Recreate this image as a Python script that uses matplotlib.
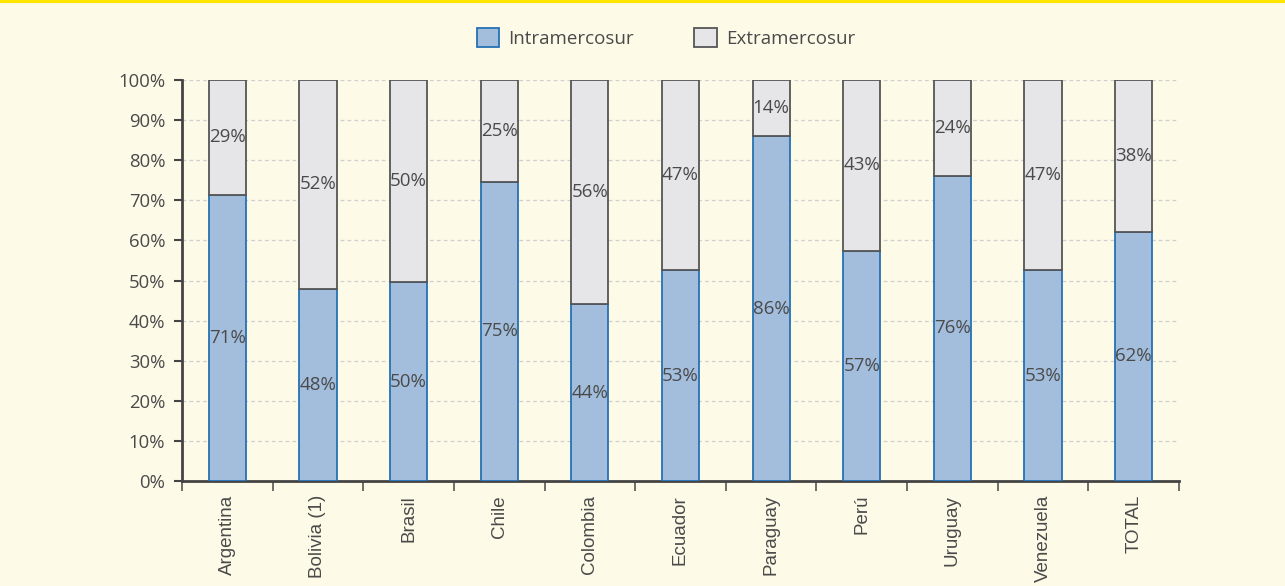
import numpy as np
import matplotlib
matplotlib.use("Agg")
import matplotlib.pyplot as plt
from matplotlib.ticker import FixedLocator, NullFormatter

countries = ["Argentina", "Bolivia (1)", "Brasil", "Chile", "Colombia", "Ecuador",
             "Paraguay", "Perú", "Uruguay", "Venezuela", "TOTAL"]
intra = [71.4, 47.9, 49.6, 74.6, 44.1, 52.6, 86.0, 57.4, 76.1, 52.6, 62.1]
extra = [100 - v for v in intra]

BG = "#FDFAE8"
TXT = "#4a4a4a"

plt.rcParams["font.family"] = ["Open Sans", "DejaVu Sans"]
plt.rcParams["font.size"] = 13

fig = plt.figure(figsize=(12.85, 5.86), dpi=100, facecolor=BG)
ax = fig.add_axes([182 / 1285, 1 - 481 / 586, 997 / 1285, 401 / 586])
ax.set_facecolor(BG)

x = np.arange(len(countries))
w = 0.41
b1 = ax.bar(x, intra, w, color="#A3BEDD", edgecolor="#2471B5", linewidth=1.3,
            label="Intramercosur", zorder=3)
b2 = ax.bar(x, extra, w, bottom=intra, color="#E6E6E8", edgecolor="#555555",
            linewidth=1.3, label="Extramercosur", zorder=3)

for i in range(len(x)):
    ax.text(x[i], intra[i] / 2, f"{intra[i]:.0f}%", ha="center", va="center",
            color=TXT, fontsize=13.5, zorder=4)
    ax.text(x[i], intra[i] + extra[i] / 2, f"{extra[i]:.0f}%", ha="center",
            va="center", color=TXT, fontsize=13.5, zorder=4)

ax.set_xlim(-0.5, len(x) - 0.5)
ax.set_ylim(0, 100)
ax.set_yticks(np.arange(0, 101, 10))
ax.set_yticklabels([f"{v}%" for v in range(0, 101, 10)], color=TXT, fontsize=13.3)
ax.yaxis.grid(True, linestyle=(0, (3, 2.5)), color="#cfcfcf", linewidth=0.9, zorder=0)

ax.set_xticks(x)
ax.set_xticklabels(countries, rotation=90, family="Liberation Sans", fontsize=13.5,
                   color=TXT)
ax.tick_params(axis="x", which="major", length=0, pad=10)
ax.xaxis.set_minor_locator(FixedLocator(np.arange(-0.5, len(x), 1)))
ax.xaxis.set_minor_formatter(NullFormatter())
ax.tick_params(axis="x", which="minor", length=7, width=1.2, color="#555555")
ax.tick_params(axis="y", length=6, width=1.5, color="#444444", pad=6)

for s in ["top", "right"]:
    ax.spines[s].set_visible(False)
for s in ["left", "bottom"]:
    ax.spines[s].set_color("#444444")
    ax.spines[s].set_linewidth(2)

fig.legend(handles=[b1, b2], loc="center", bbox_to_anchor=(666 / 1285, 1 - 38 / 586),
           bbox_transform=fig.transFigure, ncol=2, frameon=False, fontsize=13.5,
           handlelength=1.2, handleheight=1.2, columnspacing=3.2,
           handletextpad=0.5, labelcolor=TXT)

# yellow rule along the top edge
fig.add_artist(plt.Line2D([0, 1], [0.998, 0.998], color="#FFE500", linewidth=3,
                          transform=fig.transFigure))

fig.savefig("out.png", dpi=100, facecolor=BG)
